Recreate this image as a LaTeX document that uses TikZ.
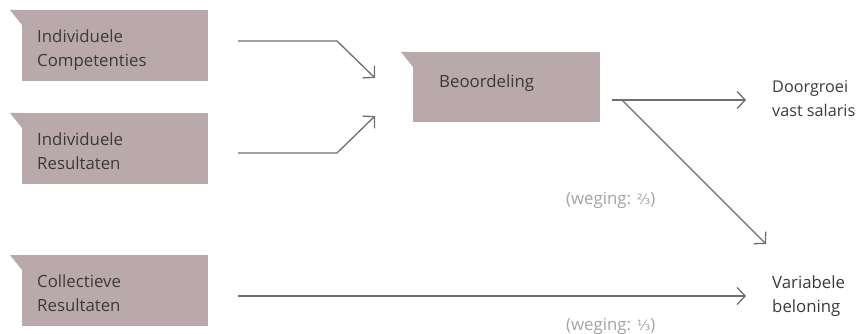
\documentclass[tikz,border=0pt]{standalone}
\usepackage{fontspec}
\setmainfont{Open Sans}
\newfontfamily\symfont{DejaVu Sans}
\usetikzlibrary{arrows.meta,calc}
\definecolor{boxc}{HTML}{BAA9AB}
\definecolor{txtc}{HTML}{3A3A3A}
\definecolor{linec}{HTML}{6D6E71}
\definecolor{weegc}{HTML}{A3A3A3}
\tikzset{
  tabbox/.style={fill=boxc, draw=none, minimum width=186pt, minimum height=71pt, inner sep=0pt, anchor=north west, rectangle},
  lbl/.style={anchor=north west, inner sep=0pt, align=left, text=txtc, font=\fontsize{16.8}{24}\selectfont},
  weeg/.style={anchor=north west, inner sep=0pt, text=weegc, font=\fontsize{16.8}{24}\selectfont},
  conn/.style={draw=linec, line width=1.3pt, -{Straight Barb[length=8pt,width=17pt,line width=1.3pt]}},
}
\newcommand{\tabof}[1]{\fill[boxc] ($(#1.north west)+(-12,0)$) -- (#1.north west) -- ($(#1.north west)+(0,15)$) -- cycle;}
\begin{document}
\begin{tikzpicture}[x=1pt,y=-1pt]
\useasboundingbox (0,0) rectangle (857,334);
% boxes
\node[tabbox] (b1) at (22,10) {};
\node[tabbox] (b2) at (22,113) {};
\node[tabbox] (b3) at (22,255) {};
\node[tabbox, minimum width=187pt, minimum height=70pt] (bb) at (413,52) {};
\tabof{b1}\tabof{b2}\tabof{b3}\tabof{bb}
% texts
\node[lbl] (t1) at (37,30) {Individuele\\Competenties};
\node[lbl] (t2) at (37,133) {Individuele\\Resultaten};
\node[lbl] (t3) at (37,275) {Collectieve\\Resultaten};
\node[lbl] (tb) at (439,75) {Beoordeling};
\node[lbl, font=\fontsize{16.2}{24}\selectfont] (td) at (772,80) {Doorgroei\\vast salaris};
\node[lbl] (tv) at (772,276) {Variabele\\beloning};
\node[weeg] (w1) at (566,192) {(weging: {\symfont\fontsize{14}{24}\selectfont ⅔})};
\node[weeg] (w2) at (566,318) {(weging: {\symfont\fontsize{14}{24}\selectfont ⅓})};
% connector coordinates
\coordinate (s1) at (238,41);
\coordinate (k1) at (337,41);
\coordinate (e1) at (375,78);
\coordinate (s2) at (238,153);
\coordinate (k2) at (337,153);
\coordinate (e2) at (375,116);
\coordinate (s4) at (612,100);
\coordinate (k4) at (622,100);
\coordinate (e4) at (746,100);
\coordinate (e5) at (766,244);
\coordinate (s6) at (238,296);
\coordinate (e6) at (746,296);
\draw[conn] (s1) -- (k1) -- (e1);
\draw[conn] (s2) -- (k2) -- (e2);
\draw[conn] (s4) -- (e4);
\draw[conn] (k4) -- (e5);
\draw[conn] (s6) -- (e6);
\end{tikzpicture}
\end{document}
